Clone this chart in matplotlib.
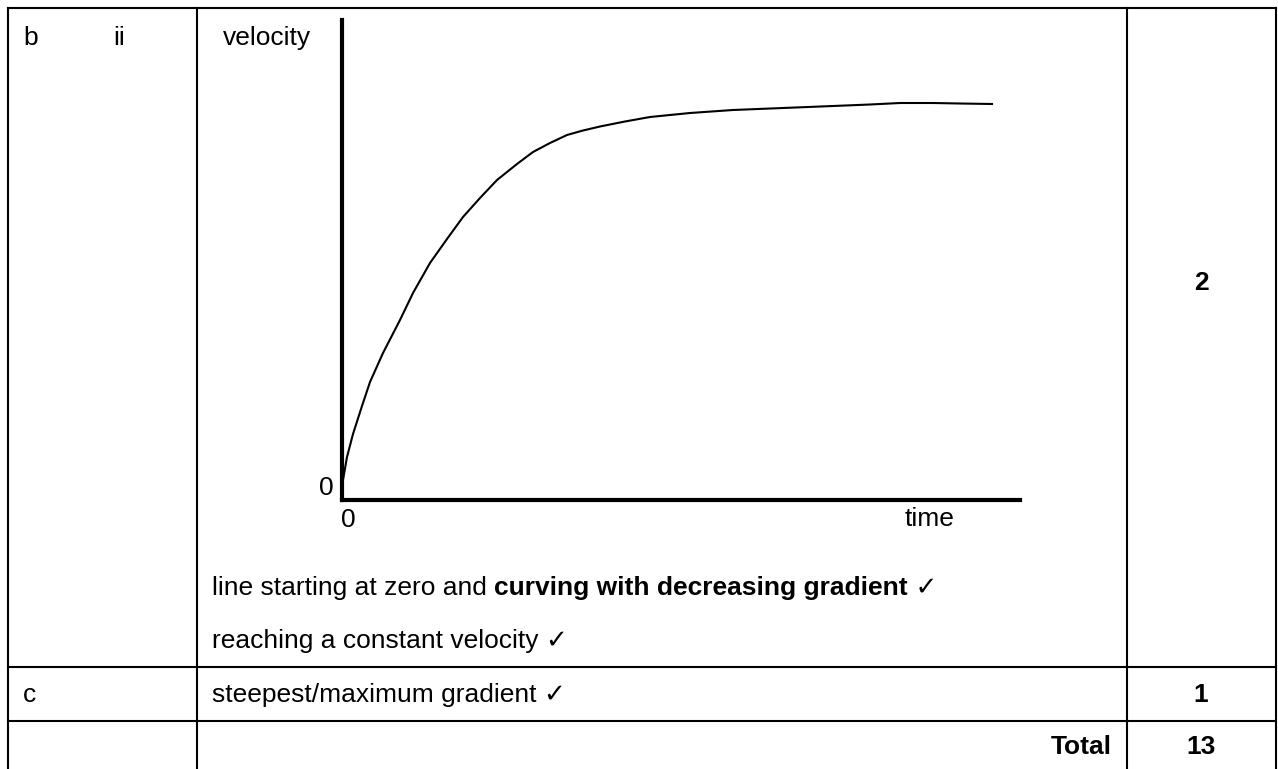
import numpy as np
import matplotlib.pyplot as plt

plt.rcParams['font.family'] = ['Liberation Sans', 'DejaVu Sans']

# curve (time, velocity in arbitrary units)
time = [0, 0.1, 0.5, 1.1, 2.0, 2.8, 4.1, 5.8, 7.1, 8.8, 10.5, 12.1, 13.8, 15.5,
        17.5, 19.1, 20.8, 22.5, 24.1, 25.8, 28.3, 30.8, 34.8, 39.1, 44.1, 49.1,
        52.8, 55.8, 59.1, 61.8, 65.0]
velocity = [0, 2.0, 4.3, 6.6, 9.4, 11.8, 14.7, 18.0, 20.7, 23.7, 26.1, 28.3, 30.2,
            32.0, 33.6, 34.8, 35.7, 36.5, 36.95, 37.35, 37.85, 38.3, 38.7, 39.0,
            39.2, 39.4, 39.55, 39.7, 39.7, 39.65, 39.6]

marks_b = "2"
marks_c = "1"
marks_total = "13"

fs = 19
W, H = 1278, 769
fig = plt.figure(figsize=(W / 100, H / 100), dpi=100)

# table layer in pixel coords
bg = fig.add_axes([0, 0, 1, 1])
bg.set_xlim(0, W)
bg.set_ylim(H, 0)
bg.axis('off')

lw_tab = 1.5
for x in [8, 197, 1127, 1276]:
    bg.plot([x, x], [8, H], color='black', lw=lw_tab, solid_capstyle='projecting')
for y in [8, 667, 721]:
    bg.plot([8, 1276], [y, y], color='black', lw=lw_tab, solid_capstyle='projecting')

bg.text(23, 45, "b", fontsize=fs, va='baseline')
bg.text(113, 45, "ii", fontsize=fs, va='baseline')
bg.text(223, 45, "velocity", fontsize=fs, va='baseline')
bg.text(319, 495, "0", fontsize=fs, va='baseline')
bg.text(341, 527, "0", fontsize=fs, va='baseline')
bg.text(905, 526, "time", fontsize=fs, va='baseline')

t1 = bg.text(212, 595, "line starting at zero and ", fontsize=fs, va='baseline')
bg.text(212, 648, "reaching a constant velocity \u2713", fontsize=fs, va='baseline')
bg.text(23, 702, "c", fontsize=fs, va='baseline')
bg.text(212, 702, "steepest/maximum gradient \u2713", fontsize=fs, va='baseline')

bg.text(1201, 283, marks_b, fontsize=fs, weight='bold', ha='center', va='center')
bg.text(1201, 702, marks_c, fontsize=fs, weight='bold', ha='center', va='baseline')
bg.text(1112, 754, "Total", fontsize=fs, weight='bold', ha='right', va='baseline')
bg.text(1201, 754, marks_total, fontsize=fs, weight='bold', ha='center', va='baseline')

fig.canvas.draw()
r = fig.canvas.get_renderer()
x_end = bg.transData.inverted().transform(
    (t1.get_window_extent(r).x1, 0))[0]
t2 = bg.text(x_end, 595, "curving with decreasing gradient", fontsize=fs,
             weight='bold', va='baseline')
fig.canvas.draw()
x_end2 = bg.transData.inverted().transform(
    (t2.get_window_extent(r).x1, 0))[0]
bg.text(x_end2, 595, " \u2713", fontsize=fs, va='baseline')

# the sketch graph
ax = fig.add_axes([342 / W, (H - 500) / H, (1020 - 342) / W, (500 - 20) / H])
ax.patch.set_alpha(0)
ax.plot(time, velocity, color='black', lw=1.5, solid_joinstyle='round')
ax.set_xlim(0, 67.8)
ax.set_ylim(0, 48)
ax.set_xticks([])
ax.set_yticks([])
for s in ['top', 'right']:
    ax.spines[s].set_visible(False)
for s in ['left', 'bottom']:
    ax.spines[s].set_linewidth(3)
    ax.spines[s].set_capstyle('projecting')

fig.savefig('out.png', dpi=100)
